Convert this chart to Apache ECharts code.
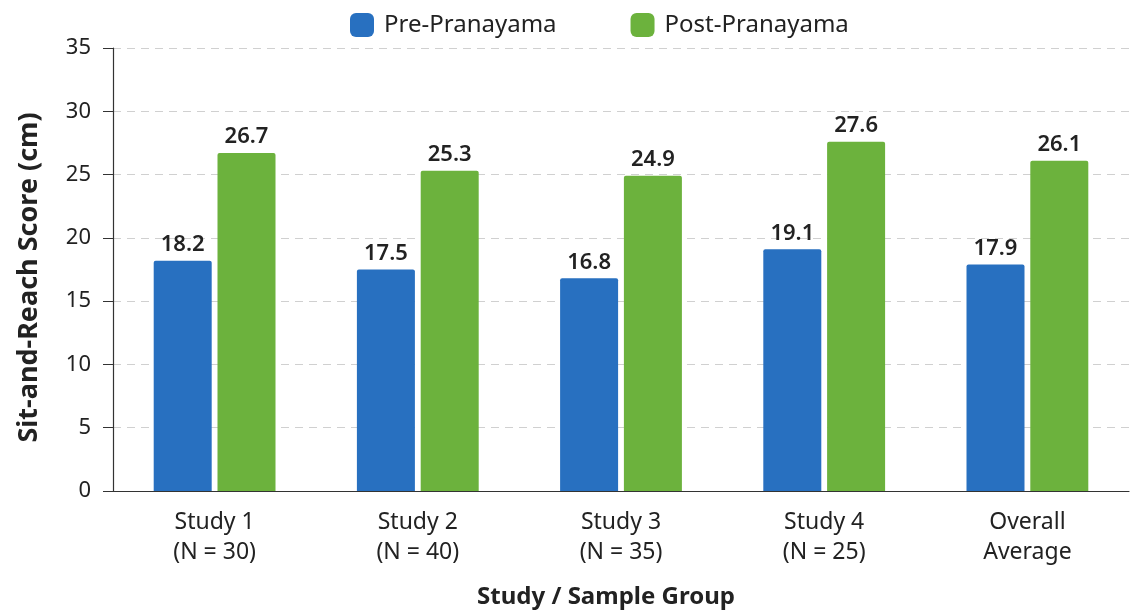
<!DOCTYPE html>
<html>
<head>
<meta charset="utf-8">
<script src="https://cdn.jsdelivr.net/npm/echarts@6/dist/echarts.min.js"></script>
<style>
  html, body { margin: 0; padding: 0; background: #fff; }
  #chart { width: 1131px; height: 614px; }
</style>
</head>
<body>
<div id="chart"></div>
<script>
// data
let categories = ['Study 1\n(N = 30)', 'Study 2\n(N = 40)', 'Study 3\n(N = 35)', 'Study 4\n(N = 25)', 'Overall\nAverage']
let preValues = [18.2, 17.5, 16.8, 19.1, 17.9]
let postValues = [26.7, 25.3, 24.9, 27.6, 26.1]
let seriesNames = ['Pre-Pranayama', 'Post-Pranayama']

let font = 'Noto Sans'
let barLabel = {
  show: true,
  position: 'top',
  distance: 5,
  fontFamily: font,
  fontSize: 22,
  fontWeight: 600,
  color: '#222'
}

let myChart = echarts.init(document.getElementById('chart'))
myChart.setOption({
  animation: false,
  textStyle: {fontFamily: font},
  legend: {
    top: 8,
    left: 345,
    itemWidth: 24,
    itemHeight: 24,
    itemGap: 74,
    textStyle: {fontSize: 24, color: '#222', fontFamily: font, padding: [0, 0, 0, 5]},
    data: seriesNames.map(n => ({name: n, icon: 'roundRect'}))
  },
  grid: {
    top: 48,
    left: 113,
    right: 2,
    bottom: 122
  },
  xAxis: {
    type: 'category',
    data: categories,
    name: 'Study / Sample Group',
    nameLocation: 'middle',
    nameGap: 94,
    nameTextStyle: {fontSize: 24, fontWeight: 'bold', color: '#222', padding: [0, 30, 0, 0]},
    axisLine: {lineStyle: {color: '#333', width: 1.2}},
    axisTick: {show: false},
    axisLabel: {fontSize: 23, color: '#222', lineHeight: 30, margin: 16}
  },
  yAxis: {
    type: 'value',
    min: 0,
    max: 35,
    interval: 5,
    name: 'Sit-and-Reach Score (cm)',
    nameLocation: 'middle',
    nameGap: 70,
    nameTextStyle: {fontSize: 27, fontWeight: 'bold', color: '#222', padding: [0, 16, 0, 0]},
    axisLine: {show: true, lineStyle: {color: '#333', width: 1.2}},
    axisTick: {show: true, length: 10, lineStyle: {color: '#333'}},
    axisLabel: {fontSize: 22, color: '#222', margin: 22},
    splitLine: {lineStyle: {color: '#d0d0d0', type: [8, 6]}}
  },
  series: [{
    name: seriesNames[0],
    type: 'bar',
    barWidth: 58,
    barGap: '10%',
    itemStyle: {color: '#2870c0', borderRadius: [2, 2, 0, 0]},
    label: barLabel,
    data: preValues
  }, {
    name: seriesNames[1],
    type: 'bar',
    barWidth: 58,
    barGap: '10%',
    itemStyle: {color: '#6cb23d', borderRadius: [2, 2, 0, 0]},
    label: barLabel,
    data: postValues
  }]
})
</script>
</body>
</html>
